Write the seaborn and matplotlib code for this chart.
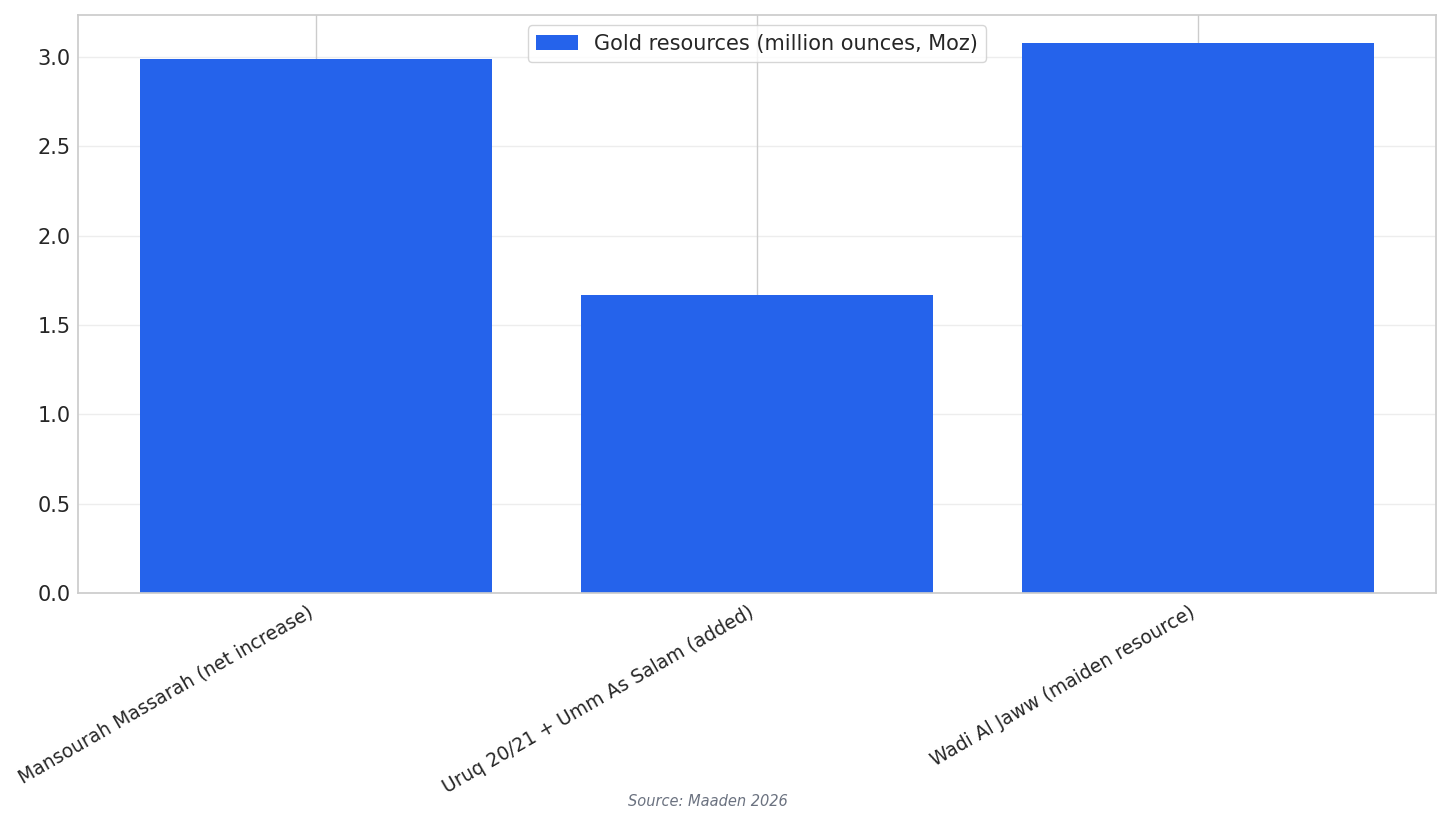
import matplotlib
matplotlib.use('Agg')
import matplotlib.pyplot as plt
import seaborn as sns

# data
sites = ['Mansourah Massarah (net increase)',
         'Uruq 20/21 + Umm As Salam (added)',
         'Wadi Al Jaww (maiden resource)']
gold_moz = [2.99, 1.665, 3.08]

sns.set_theme(style='whitegrid')

fig, ax = plt.subplots(figsize=(14.5, 8.24), dpi=100)
sns.barplot(x=sites, y=gold_moz, color='#2563EB', saturation=1, width=0.8,
            linewidth=0, label='Gold resources (million ounces, Moz)', ax=ax)

# vertical grid stays solid, horizontal one is faint
ax.xaxis.grid(True)
ax.yaxis.grid(True, alpha=0.35)
ax.set_axisbelow(True)
ax.set_xlim(-0.54, 2.54)
ax.set_ylim(0, 3.234)
ax.tick_params(axis='x', length=3.5, pad=3.5)
ax.tick_params(axis='y', length=3.5, pad=2, labelsize=15)
plt.setp(ax.get_xticklabels(), rotation=30, ha='right', fontsize=13.5)
ax.legend(loc='upper center', fontsize=15)

fig.text(0.488, 0.022, 'Source: Maaden 2026', ha='center', fontsize=10.5,
         style='italic', color='#6b7280')

plt.subplots_adjust(left=0.0538, right=0.9903, top=0.9818, bottom=0.2803)
plt.savefig('out.png')
